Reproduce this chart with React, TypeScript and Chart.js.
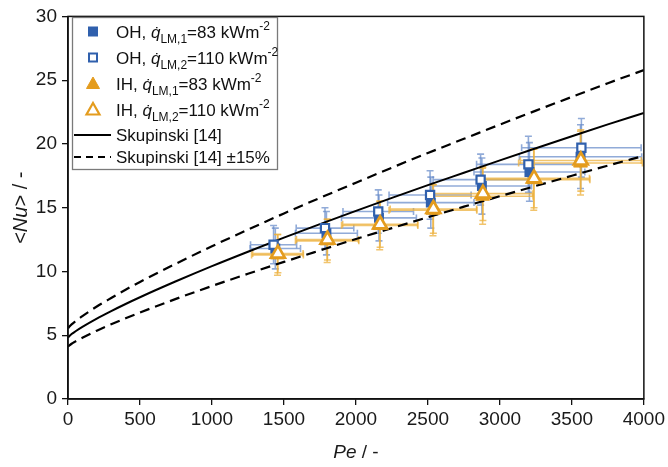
import React, { useEffect, useRef } from 'react';
import { Chart, registerables } from 'chart.js';

Chart.register(...registerables);

const FONT = '"Liberation Sans", Arial, Helvetica, sans-serif';

// Skupinski [14] correlation curve
const skupPe = [0, 10, 25, 50, 100, 200, 300, 400, 500, 750, 1000, 1250, 1500, 1750, 2000, 2250, 2500, 2750, 3000, 3250, 3500, 3750, 4000];
const skupNu = [4.82, 4.94, 5.09, 5.29, 5.65, 6.30, 6.89, 7.45, 7.98, 9.23, 10.42, 11.55, 12.65, 13.71, 14.75, 15.77, 16.77, 17.74, 18.71, 19.66, 20.60, 21.53, 22.43];
const skupUpper = [5.54, 5.68, 5.85, 6.08, 6.50, 7.25, 7.92, 8.57, 9.18, 10.61, 11.98, 13.28, 14.55, 15.77, 16.96, 18.14, 19.29, 20.40, 21.52, 22.61, 23.69, 24.76, 25.79];
const skupLower = [4.10, 4.20, 4.33, 4.50, 4.80, 5.36, 5.86, 6.33, 6.78, 7.85, 8.86, 9.82, 10.75, 11.65, 12.54, 13.40, 14.25, 15.08, 15.90, 16.71, 17.51, 18.30, 19.07];

// OH, q_LM,1 = 83 kWm-2
const oh1Pe = [1440, 1795, 2160, 2520, 2875, 3205, 3560];
const oh1Nu = [11.8, 13.0, 14.2, 15.4, 16.7, 17.8, 19.0];
const oh1PeErr = [175, 215, 260, 300, 345, 385, 425];
const oh1NuErr = [1.6, 1.7, 1.8, 2.0, 2.2, 2.3, 2.5];

// OH, q_LM,2 = 110 kWm-2
const oh2Pe = [1428, 1785, 2155, 2515, 2866, 3198, 3566];
const oh2Nu = [12.1, 13.4, 14.7, 16.0, 17.2, 18.4, 19.7];
const oh2PeErr = [160, 200, 245, 285, 330, 360, 415];
const oh2NuErr = [1.5, 1.6, 1.7, 1.9, 2.0, 2.2, 2.3];

// IH, q_LM,1 = 83 kWm-2
const ih1Pe = [1455, 1800, 2165, 2535, 2880, 3235, 3560];
const ih1Nu = [11.3, 12.4, 13.6, 14.8, 15.9, 17.2, 18.5];
const ih1PeErr = [180, 220, 265, 305, 350, 390, 430];
const ih1NuErr = [1.6, 1.7, 1.9, 2.0, 2.2, 2.4, 2.5];

// IH, q_LM,2 = 110 kWm-2
const ih2Pe = [1458, 1802, 2168, 2538, 2882, 3237, 3562];
const ih2Nu = [11.4, 12.5, 13.7, 14.9, 16.1, 17.3, 18.7];
const ih2PeErr = [175, 215, 260, 300, 345, 385, 420];
const ih2NuErr = [1.5, 1.6, 1.8, 1.9, 2.1, 2.3, 2.4];

const xTicks = [0, 500, 1000, 1500, 2000, 2500, 3000, 3500, 4000];
const yTicks = [0, 5, 10, 15, 20, 25, 30];

const BLUE = '#3060ad';
const ORANGE = '#e49c1e';
const BLUE_ERR = 'rgba(98,135,200,0.7)';
const ORANGE_ERR = 'rgba(236,176,60,0.75)';

const pts = (xs: number[], ys: number[]) => xs.map((x, i) => ({ x, y: ys[i] }));

type Part = { t: string; italic?: boolean; sub?: boolean; sup?: boolean };

function richWidth(ctx: CanvasRenderingContext2D, parts: Part[], size: number) {
  let w = 0;
  for (const p of parts) {
    const s = p.sub || p.sup ? Math.round(size * 0.68) : size;
    ctx.font = `${p.italic ? 'italic ' : ''}${s}px ${FONT}`;
    w += ctx.measureText(p.t).width;
  }
  return w;
}

function richText(ctx: CanvasRenderingContext2D, x: number, baseline: number, parts: Part[], size: number) {
  let cx = x;
  ctx.textBaseline = 'alphabetic';
  ctx.textAlign = 'left';
  for (const p of parts) {
    const s = p.sub || p.sup ? Math.round(size * 0.68) : size;
    ctx.font = `${p.italic ? 'italic ' : ''}${s}px ${FONT}`;
    const dy = p.sub ? size * 0.3 : p.sup ? -size * 0.42 : 0;
    ctx.fillText(p.t, cx, baseline + dy);
    cx += ctx.measureText(p.t).width;
  }
}

const errorSeries = [
  { pe: oh1Pe, nu: oh1Nu, pe_e: oh1PeErr, nu_e: oh1NuErr, color: BLUE_ERR },
  { pe: oh2Pe, nu: oh2Nu, pe_e: oh2PeErr, nu_e: oh2NuErr, color: BLUE_ERR },
  { pe: ih1Pe, nu: ih1Nu, pe_e: ih1PeErr, nu_e: ih1NuErr, color: ORANGE_ERR },
  { pe: ih2Pe, nu: ih2Nu, pe_e: ih2PeErr, nu_e: ih2NuErr, color: ORANGE_ERR },
];

const errorBarPlugin = {
  id: 'errorBars',
  beforeDatasetsDraw(chart: any) {
    const { ctx, scales, chartArea } = chart;
    const xs = scales.x;
    const ys = scales.y;
    ctx.save();
    ctx.beginPath();
    ctx.rect(chartArea.left, chartArea.top, chartArea.right - chartArea.left, chartArea.bottom - chartArea.top);
    ctx.clip();
    const cap = 3.5;
    for (const s of errorSeries) {
      ctx.strokeStyle = s.color;
      ctx.lineWidth = 1.6;
      for (let i = 0; i < s.pe.length; i++) {
        const px = xs.getPixelForValue(s.pe[i]);
        const py = ys.getPixelForValue(s.nu[i]);
        const x0 = xs.getPixelForValue(s.pe[i] - s.pe_e[i]);
        const x1 = xs.getPixelForValue(s.pe[i] + s.pe_e[i]);
        const y0 = ys.getPixelForValue(s.nu[i] - s.nu_e[i]);
        const y1 = ys.getPixelForValue(s.nu[i] + s.nu_e[i]);
        ctx.beginPath();
        ctx.moveTo(x0, py); ctx.lineTo(x1, py);
        ctx.moveTo(x0, py - cap); ctx.lineTo(x0, py + cap);
        ctx.moveTo(x1, py - cap); ctx.lineTo(x1, py + cap);
        ctx.moveTo(px, y0); ctx.lineTo(px, y1);
        ctx.moveTo(px - cap, y0); ctx.lineTo(px + cap, y0);
        ctx.moveTo(px - cap, y1); ctx.lineTo(px + cap, y1);
        ctx.stroke();
      }
    }
    ctx.restore();
  },
};

const decorPlugin = {
  id: 'decor',
  afterDraw(chart: any) {
    const { ctx, chartArea } = chart;
    const { left, right, top, bottom } = chartArea;
    ctx.save();
    // frame
    ctx.strokeStyle = '#111';
    ctx.lineWidth = 1.5;
    ctx.strokeRect(left, top, right - left, bottom - top);

    // axis titles
    ctx.fillStyle = '#1a1a1a';
    const xt: Part[] = [{ t: 'Pe', italic: true }, { t: ' / -' }];
    const xw = richWidth(ctx, xt, 19);
    richText(ctx, (left + right) / 2 - xw / 2, 458, xt, 19);

    const yt: Part[] = [{ t: '<' }, { t: 'Nu', italic: true }, { t: '> / -' }];
    const yw = richWidth(ctx, yt, 20);
    ctx.save();
    ctx.translate(27, (top + bottom) / 2);
    ctx.rotate(-Math.PI / 2);
    richText(ctx, -yw / 2, 0, yt, 20);
    ctx.restore();

    // legend
    const lx = 72.5, ly = 17.5, lw = 205, lh = 152;
    ctx.fillStyle = '#fff';
    ctx.fillRect(lx, ly, lw, lh);
    ctx.strokeStyle = '#7a7a7a';
    ctx.lineWidth = 1.3;
    ctx.strokeRect(lx, ly, lw, lh);

    const mx = 93;
    const rows = [31.5, 57.5, 83.5, 109.5, 135, 157];
    // filled square
    ctx.fillStyle = BLUE;
    ctx.fillRect(mx - 5, rows[0] - 5, 10, 10);
    // open square
    ctx.fillStyle = '#fff';
    ctx.strokeStyle = BLUE;
    ctx.lineWidth = 2;
    ctx.fillRect(mx - 4, rows[1] - 4, 8, 8);
    ctx.strokeRect(mx - 4, rows[1] - 4, 8, 8);
    // filled triangle
    const tri = (cy: number) => {
      ctx.beginPath();
      ctx.moveTo(mx, cy - 6.5);
      ctx.lineTo(mx + 6.5, cy + 5);
      ctx.lineTo(mx - 6.5, cy + 5);
      ctx.closePath();
    };
    ctx.fillStyle = ORANGE;
    ctx.strokeStyle = ORANGE;
    ctx.lineWidth = 1;
    tri(rows[2]);
    ctx.fill();
    ctx.stroke();
    ctx.fillStyle = '#fff';
    ctx.lineWidth = 2.2;
    ctx.lineJoin = 'miter';
    tri(rows[3]);
    ctx.fill();
    ctx.stroke();
    // solid line
    ctx.strokeStyle = '#000';
    ctx.lineWidth = 2;
    ctx.beginPath();
    ctx.moveTo(74, rows[4]);
    ctx.lineTo(111, rows[4]);
    ctx.stroke();
    ctx.setLineDash([7, 5]);
    ctx.beginPath();
    ctx.moveTo(74, rows[5]);
    ctx.lineTo(111, rows[5]);
    ctx.stroke();
    ctx.setLineDash([]);

    ctx.fillStyle = '#111';
    const tx = 116;
    const q = (n: string, val: string, pre: string): Part[] => [
      { t: pre + ', ' },
      { t: 'q\u0307', italic: true },
      { t: 'LM,' + n, sub: true },
      { t: '=' + val + ' kWm' },
      { t: '-2', sup: true },
    ];
    richText(ctx, tx, rows[0] + 6, q('1', '83', 'OH'), 17);
    richText(ctx, tx, rows[1] + 6, q('2', '110', 'OH'), 17);
    richText(ctx, tx, rows[2] + 6, q('1', '83', 'IH'), 17);
    richText(ctx, tx, rows[3] + 6, q('2', '110', 'IH'), 17);
    richText(ctx, tx, rows[4] + 6, [{ t: 'Skupinski [14]' }], 17);
    richText(ctx, tx, rows[5] + 6, [{ t: 'Skupinski [14] \u00B115%' }], 17);
    ctx.restore();
  },
};

export default function App() {
  const ref = useRef<HTMLCanvasElement | null>(null);

  useEffect(() => {
    if (!ref.current) return;
    const tickFont = { family: FONT, size: 19 };
    const chart = new Chart(ref.current, {
      type: 'scatter',
      data: {
        datasets: [
          {
            label: 'Skupinski [14]',
            data: pts(skupPe, skupNu),
            showLine: true,
            borderColor: '#000',
            borderWidth: 2,
            pointRadius: 0,
            cubicInterpolationMode: 'monotone',
            order: 10,
          },
          {
            label: 'Skupinski [14] +15%',
            data: pts(skupPe, skupUpper),
            showLine: true,
            borderColor: '#000',
            borderWidth: 2.2,
            borderDash: [10, 6],
            pointRadius: 0,
            cubicInterpolationMode: 'monotone',
            order: 11,
          },
          {
            label: 'Skupinski [14] -15%',
            data: pts(skupPe, skupLower),
            showLine: true,
            borderColor: '#000',
            borderWidth: 2.2,
            borderDash: [10, 6],
            pointRadius: 0,
            cubicInterpolationMode: 'monotone',
            order: 12,
          },
          {
            label: 'OH q1',
            data: pts(oh1Pe, oh1Nu),
            pointStyle: 'rect',
            pointRadius: 7,
            backgroundColor: BLUE,
            borderColor: BLUE,
            borderWidth: 0,
            order: 4,
          },
          {
            label: 'OH q2',
            data: pts(oh2Pe, oh2Nu),
            pointStyle: 'rect',
            pointRadius: 5.8,
            backgroundColor: '#fff',
            borderColor: BLUE,
            borderWidth: 2.2,
            order: 3,
          },
          {
            label: 'IH q1',
            data: pts(ih1Pe, ih1Nu),
            pointStyle: 'triangle',
            pointRadius: 8,
            backgroundColor: ORANGE,
            borderColor: ORANGE,
            borderWidth: 1,
            order: 2,
          },
          {
            label: 'IH q2',
            data: pts(ih2Pe, ih2Nu),
            pointStyle: 'triangle',
            pointRadius: 8,
            backgroundColor: '#fff',
            borderColor: ORANGE,
            borderWidth: 2.7,
            order: 1,
          },
        ],
      },
      options: {
        responsive: false,
        animation: false,
        events: [],
        devicePixelRatio: 1,
        layout: { padding: { left: 0, right: 24, top: 14, bottom: 0 } },
        plugins: { legend: { display: false }, tooltip: { enabled: false } },
        scales: {
          x: {
            type: 'linear',
            min: 0,
            max: 4000,
            afterBuildTicks: (scale: any) => {
              scale.ticks = xTicks.map((v) => ({ value: v }));
            },
            afterFit: (scale: any) => {
              scale.height = 68;
            },
            ticks: {
              font: tickFont,
              color: '#1a1a1a',
              padding: 3,
              maxRotation: 0,
              autoSkip: false,
              callback: (v: any) => String(v),
            },
            grid: { drawOnChartArea: false, drawTicks: true, tickLength: 6, color: '#111', lineWidth: 1.3 },
            border: { display: true, color: '#111', width: 1.5 },
          },
          y: {
            type: 'linear',
            min: 0,
            max: 30,
            afterBuildTicks: (scale: any) => {
              scale.ticks = yTicks.map((v) => ({ value: v }));
            },
            afterFit: (scale: any) => {
              scale.width = 68;
            },
            ticks: { font: tickFont, color: '#1a1a1a', padding: 5, autoSkip: false, callback: (v: any) => String(v) },
            grid: { drawOnChartArea: false, drawTicks: true, tickLength: 6, color: '#111', lineWidth: 1.3 },
            border: { display: true, color: '#111', width: 1.5 },
          },
        },
      } as any,
      plugins: [errorBarPlugin, decorPlugin],
    });
    return () => chart.destroy();
  }, []);

  return (
    <div style={{ position: 'fixed', left: 0, top: 0, width: 668, height: 467, background: '#fff' }}>
      <canvas ref={ref} width={668} height={467} style={{ display: 'block' }} />
    </div>
  );
}
